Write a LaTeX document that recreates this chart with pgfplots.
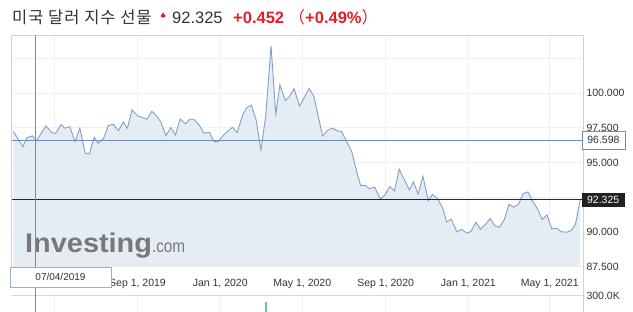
\documentclass[border=0pt]{standalone}
\usepackage{pgfplots}
\pgfplotsset{compat=1.18}
\usepackage{pgfplotstable}
\usepackage{fontspec}
\setmainfont{Liberation Sans}
\newfontfamily\kr[LetterSpace=6]{Noto Sans CJK KR}
\newfontfamily\krp{Noto Sans CJK KR}
\usepackage{graphicx}

\definecolor{linec}{RGB}{130,160,200}
\definecolor{fillc}{RGB}{228,236,244}
\definecolor{crossc}{RGB}{110,140,190}
\definecolor{gridc}{RGB}{238,240,242}
\definecolor{borderc}{RGB}{210,210,210}
\definecolor{txt}{RGB}{51,51,51}
\definecolor{redc}{RGB}{230,30,40}
\definecolor{volc}{RGB}{120,195,150}
\definecolor{wm}{RGB}{120,120,120}

\pgfplotstableread{
d p
-183 97.22
-169 96.14
-163 96.78
-155 96.91
-149 96.57
-135 97.63
-127 97.17
-121 97.07
-113 97.72
-107 97.46
-100 97.58
-92 96.50
-85 97.46
-77 95.66
-71 95.61
-64 96.81
-58 96.38
-50 96.74
-43 97.65
-36 97.75
-28 97.29
-21 97.91
-15 97.46
-8 98.78
0 98.35
14 98.11
21 98.68
27 98.42
34 97.94
42 96.93
49 97.50
56 96.98
63 98.13
71 97.77
77 98.11
83 98.11
91 97.70
98 97.10
106 97.17
113 96.50
119 96.50
127 96.98
133 97.25
140 97.53
147 97.14
155 98.42
161 98.94
168 99.12
175 98.06
182 95.90
189 98.29
197 103.38
204 98.49
210 100.58
218 99.45
224 99.73
231 100.31
239 99.06
246 99.69
253 100.32
260 99.78
273 96.91
281 97.34
288 97.46
294 97.30
301 97.22
308 96.55
316 95.78
322 94.58
329 93.35
336 93.35
342 93.12
350 93.22
358 92.37
365 92.66
372 93.26
379 92.96
386 94.53
393 93.80
401 93.02
407 93.60
414 92.73
421 94.01
429 92.25
435 92.70
443 92.37
450 91.73
456 90.72
463 90.92
471 90.00
478 90.19
486 89.91
492 90.05
499 90.70
506 90.20
514 90.58
520 90.97
527 90.45
534 90.34
541 90.89
548 91.99
555 91.78
562 92.00
569 92.76
576 92.88
582 92.28
590 91.67
597 90.89
604 91.24
611 90.22
618 90.27
625 90.02
633 89.98
640 90.12
646 90.56
653 92.325
}\usd

\pgfplotstableread{
d v
189.5 190000
}\vol

\begin{document}
\begin{tikzpicture}[x=1pt,y=1pt]
\path[use as bounding box] (0,0) rectangle (633,312);

% main price panel
\begin{axis}[
  at={(11pt,45pt)}, anchor=south west,
  width=572pt, height=232pt, scale only axis,
  xmin=-186.6, xmax=657.1, ymin=87.48, ymax=104.17,
  axis line style={draw=none},
  major tick length=0pt,
  xtick={-123,0,122,243,366,488,608},
  xticklabels={{May 1, 2019},{Sep 1, 2019},{Jan 1, 2020},{May 1, 2020},{Sep 1, 2020},{Jan 1, 2021},{May 1, 2021}},
  ytick={87.5,90,92.5,95,97.5,100,102.5},
  yticklabels={87.500,90.000,{},95.000,97.500,100.000,{}},
  yticklabel pos=right,
  grid=major, grid style={color=gridc, line width=0.6pt},
  ticklabel style={font=\fontsize{10.5}{12}\selectfont, text=txt},
  xticklabel style={anchor=base, yshift=-20pt},
  yticklabel style={anchor=west},
]
\addplot[fill=fillc, draw=none] table[x=d,y=p] {\usd} \closedcycle;
\addplot[color=linec, line width=0.9pt] table[x=d,y=p] {\usd};
\draw[crossc, line width=0.9pt] (axis cs:-186.6,96.598) -- (axis cs:657.1,96.598);
\draw[black!85, line width=0.9pt] (axis cs:-186.6,92.325) -- (axis cs:657.1,92.325);
\coordinate (ch) at (axis cs:-150,104.17);
\coordinate (l1) at (axis cs:657.1,96.598);
\coordinate (l2) at (axis cs:657.1,92.325);
\end{axis}

% volume panel
\begin{axis}[
  at={(11pt,0pt)}, anchor=south west,
  width=572pt, height=17pt, scale only axis,
  xmin=-186.6, xmax=657.1, ymin=0, ymax=318750,
  axis line style={draw=none},
  major tick length=0pt,
  xtick=\empty,
  ytick={300000}, yticklabels={300.0K},
  yticklabel pos=right,
  ticklabel style={font=\fontsize{10.5}{12}\selectfont, text=txt},
  yticklabel style={anchor=west},
  scaled y ticks=false,
]
\foreach \g in {-123,0,122,243,366,488,608}{
  \edef\tmp{\noexpand\draw[gridc, line width=0.6pt] (axis cs:\g,0) -- (axis cs:\g,318750);}\tmp
}
\addplot[ybar, bar width=2pt, fill=volc, draw=none] table[x=d,y=v] {\vol};
\end{axis}

% frame lines
\draw[borderc, line width=0.7pt] (11,45) -- (11,277) -- (583.5,277);
\draw[borderc, line width=0.7pt] (583.5,277) -- (583.5,0);
\draw[gridc!80!gray, line width=0.6pt] (11,17) -- (583,17);

% watermark
\node[anchor=base west, inner sep=0, text=wm] at (25,59.3)
  {\scalebox{1.07}[1]{\fontsize{27}{27}\selectfont\bfseries Investing}\scalebox{0.85}[1]{\fontsize{18}{18}\selectfont .com}};

% crosshair
\draw[crossc, line width=0.9pt] (ch) -- (ch |- 0,0);

% date box
\node[draw=crossc!70, fill=white, line width=0.8pt, minimum width=101pt, minimum height=20pt, inner sep=0, text=txt,
  font=\fontsize{10}{12}\selectfont] at (60.5,35) {07/04/2019};

% price boxes
\node[draw=crossc, fill=white, line width=0.8pt, anchor=west, minimum width=43pt, minimum height=18pt, inner sep=0, text=txt,
  font=\fontsize{10.5}{12}\selectfont] at ([xshift=-1.5pt]l1) {96.598};
\node[fill=black!87, anchor=west, minimum width=43pt, minimum height=14pt, inner sep=0, text=white,
  font=\fontsize{10.5}{12}\selectfont] at ([xshift=-1.5pt]l2) {92.325};

% title
\node[anchor=base west, inner sep=0, text=txt] at (12,288) {\kr\fontsize{16.5}{18}\selectfont 미국 달러 지수 선물};
\fill[redc] (160.5,296) -- (163,299.5) -- (165.5,296) -- (164.5,294.5) -- (161.5,294.5) -- cycle;
\node[anchor=base west, inner sep=0, text=txt] at (172,288) {\fontsize{16.5}{18}\selectfont 92.325};
\node[anchor=base west, inner sep=0, text=redc] at (233,288) {\fontsize{16.5}{18}\selectfont\bfseries +0.452 {\krp\mdseries （}+0.49\%{\krp\mdseries ）}};
\end{tikzpicture}
\end{document}
